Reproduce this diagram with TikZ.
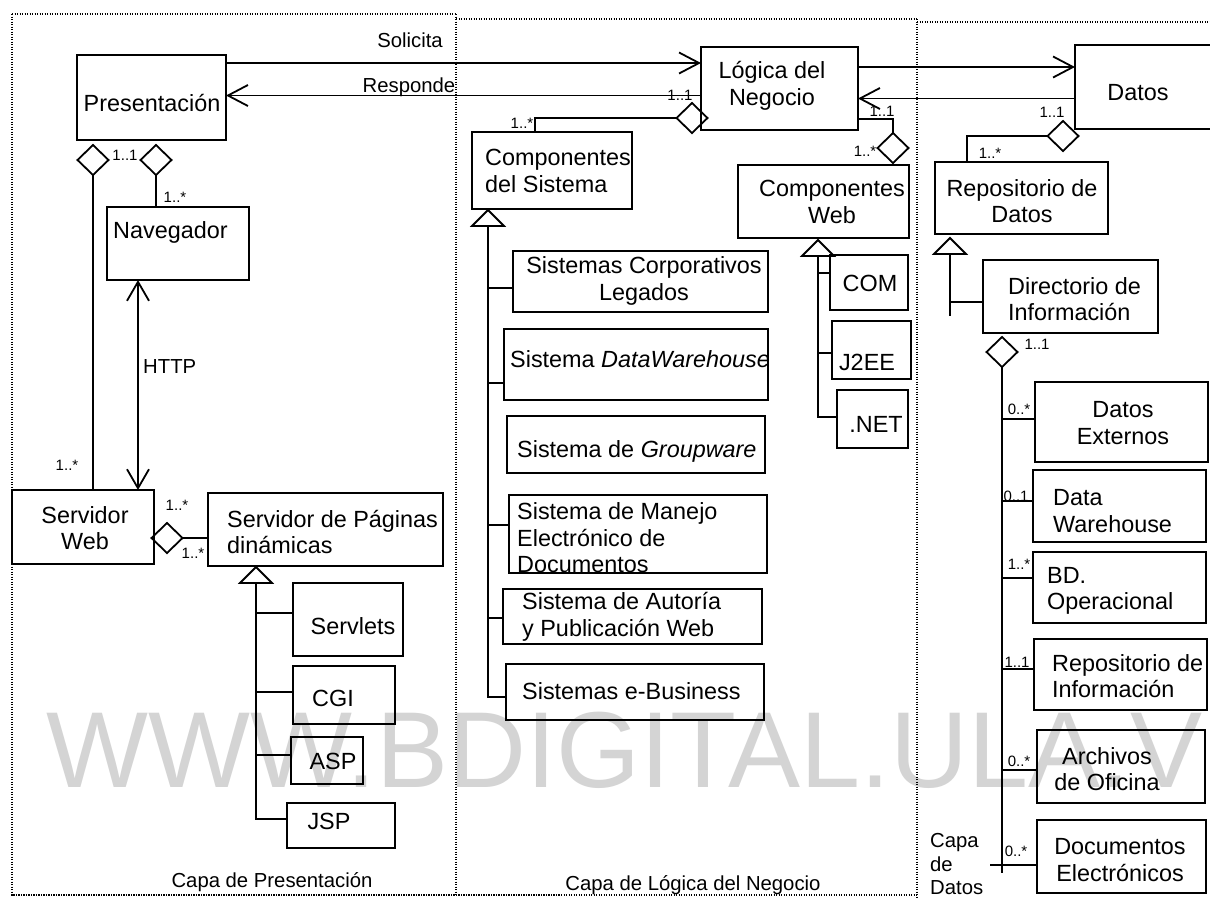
\documentclass[tikz,border=0pt]{standalone}
\usepackage{fontspec}
\setmainfont{Liberation Sans}
\usetikzlibrary{arrows.meta,shapes.geometric,calc}

% a class box given by its corners (x1,y1) and (x2,y2)
\newcommand\umlbox[5]{%
  \pgfmathsetmacro\bxw{#4-#2}\pgfmathsetmacro\bxh{#5-#3}%
  \pgfmathsetmacro\bxc{(#2+#4)/2}\pgfmathsetmacro\byc{(#3+#5)/2}%
  \node[boxst, minimum width=\bxw pt, minimum height=\bxh pt] (#1) at (\bxc,\byc) {};}

\tikzset{
  ln/.style={line width=1.8pt},
  boxst/.style={draw, line width=1.8pt, rectangle, inner sep=0pt, outer sep=0pt},
  txt/.style={inner sep=0pt, font=\fontsize{23.4}{26.5}\selectfont},
  lbl/.style={inner sep=0pt, font=\fontsize{20.3}{23.5}\selectfont},
  mult/.style={inner sep=0pt, font=\fontsize{15}{17}\selectfont},
  agg/.style={diamond, draw, line width=1.8pt, inner sep=0pt, outer sep=0pt,
    minimum width=31pt, minimum height=30pt},
  opn/.style={-{Straight Barb[length=20pt,width=21pt]}},
  frame/.style={line width=1.1pt, dash pattern=on 1.1pt off 1.4pt},
  gentri/.pic={\draw[line width=1.8pt] (0,0) -- (-16,16) -- (16,16) -- cycle;
    \coordinate (-base) at (0,16);}
}

\begin{document}
\begin{tikzpicture}[x=1pt,y=-1pt]
\path[use as bounding box, fill=white] (0,0) rectangle (1210,898);

% watermark
\node[anchor=base west, inner sep=0pt, text=black!17,
  font=\fontsize{108}{108}\selectfont] (wm) at (46,787) {WWW.BDIGITAL.ULA.V};

% layer frame
\draw[frame] (12,14) -- (456,14) (456,19) -- (917,19) (917,22) -- (1210,22);
\draw[frame] (12,14) -- (12,895) -- (917,895);
\draw[frame] (456,14) -- (456,895);
\draw[frame] (917,19) -- (917,898);

% ---------- presentation layer ----------
\umlbox{pres}{77}{55}{226}{140}
\umlbox{nav}{107}{207}{249}{280}
\umlbox{sweb}{12}{490}{154}{564}
\umlbox{spd}{208}{493}{443}{566}
\umlbox{servlets}{293}{583}{403}{656}
\umlbox{cgi}{293}{666}{395}{724}
\umlbox{asp}{291}{737}{363}{784}
\umlbox{jsp}{287}{803}{395}{848}

\node[txt] (tpres) at (152,103) {Presentación};
\node[txt, anchor=west] (tnav) at (113,232) {Navegador};
\node[txt, align=center] (tsweb) at (85,528) {Servidor\\Web};
\node[txt, align=left, anchor=west] (tspd) at (227,532) {Servidor de Páginas\\dinámicas};
\node[txt] (tservlets) at (353,626) {Servlets};
\node[txt] (tcgi) at (333,698) {CGI};
\node[txt] (tasp) at (333,761) {ASP};
\node[txt] (tjsp) at (329,821) {JSP};

% ---------- business logic layer ----------
\umlbox{logic}{701}{47}{858}{130}
\umlbox{csis}{472}{132}{632}{209}
\umlbox{scl}{513}{251}{768}{312}
\umlbox{sdw}{504}{329}{768}{400}
\umlbox{sgw}{507}{416}{765}{473}
\umlbox{sme}{509}{495}{767}{573}
\umlbox{sap}{503}{589}{762}{644}
\umlbox{seb}{506}{664}{764}{720}
\umlbox{cweb}{738}{165}{909}{238}
\umlbox{com}{830}{255}{908}{310}
\umlbox{jee}{832}{321}{911}{379}
\umlbox{net}{837}{390}{908}{448}

\node[txt, align=center] (tlogic) at (772,86) {Lógica del\\Negocio};
\node[txt, align=left, anchor=west] (tcsis) at (485,171) {Componentes\\del Sistema};
\node[txt, align=center] (tscl) at (644,281) {Sistemas Corporativos\\Legados};
\node[txt, anchor=west] (tsdw) at (510,359) {Sistema \textit{DataWarehouse}};
\node[txt, anchor=west] (tsgw) at (517,451) {Sistema de \textit{Groupware}};
\node[txt, align=left, anchor=west] (tsme) at (517,538) {Sistema de Manejo\\Electrónico de\\Documentos};
\node[txt, align=left, anchor=west] (tsap) at (522,617) {Sistema de Autoría\\y Publicación Web};
\node[txt, anchor=west] (tseb) at (522,691) {Sistemas e-Business};
\node[txt, align=center] (tcweb) at (832,202) {Componentes\\Web};
\node[txt] (tcom) at (870,283) {COM};
\node[txt] (tjee) at (867,362) {J2EE};
\node[txt] (tnet) at (876,424) {.NET};

% ---------- data layer ----------
\umlbox{datos}{1075}{45}{1240}{129}
\umlbox{rdatos}{935}{162}{1108}{234}
\umlbox{dir}{983}{260}{1158}{333}
\umlbox{dext}{1035}{382}{1208}{462}
\umlbox{dwh}{1033}{470}{1206}{542}
\umlbox{bdo}{1033}{552}{1206}{623}
\umlbox{rinf}{1034}{639}{1207}{710}
\umlbox{arch}{1037}{730}{1205}{803}
\umlbox{delec}{1037}{820}{1206}{893}

\node[txt] (tdatos) at (1138,93) {Datos};
\node[txt, align=center] (trdatos) at (1022,201) {Repositorio de\\Datos};
\node[txt, align=left, anchor=west] (tdir) at (1008,299) {Directorio de\\Información};
\node[txt, align=center] (tdext) at (1123,423) {Datos\\Externos};
\node[txt, align=left, anchor=west] (tdwh) at (1053,511) {Data\\Warehouse};
\node[txt, align=left, anchor=west] (tbdo) at (1047,591) {BD.\\Operacional};
\node[txt, align=left, anchor=west] (trinf) at (1052,676) {Repositorio de\\Información};
\node[txt, align=center] (tarch) at (1107,769) {Archivos\\de Oficina};
\node[txt, align=center] (tdelec) at (1120,860) {Documentos\\Electrónicos};

% layer captions
\node[lbl] (capaP) at (272,882) {Capa de Presentación};
\node[lbl] (capaL) at (693,885) {Capa de Lógica del Negocio};
\node[lbl, align=left, anchor=west] (capaD) at (930,864) {Capa\\de\\Datos};

% ---------- messages between layers ----------
\coordinate (ySol) at (0,63);
\coordinate (yRes) at (0,95.5);
\coordinate (yLD) at (0,67);
\coordinate (yDL) at (0,98.5);
\draw[ln, opn] (pres.east |- ySol) -- (logic.west |- ySol);
\draw[ln, opn] (logic.west |- yRes) -- (pres.east |- yRes);
\draw[ln, opn] (logic.east |- yLD) -- (datos.west |- yLD);
\draw[ln, opn] (datos.west |- yDL) -- (logic.east |- yDL);
\node[lbl] (lsol) at (410,40) {Solicita};
\node[lbl] (lres) at (409,87) {Responde};

% ---------- presentation associations ----------
\node[agg] (ag1) at (93,160) {};
\node[agg] (ag2) at (156,160) {};
\draw[ln] (ag1.south) -- (ag1.south |- sweb.north);
\draw[ln] (ag2.south) -- (ag2.south |- nav.north);
\coordinate (xH) at (138,0);
\draw[ln, {Straight Barb[length=19pt,width=22pt]}-{Straight Barb[length=19pt,width=22pt]}]
  (nav.south -| xH) -- (sweb.north -| xH);
\node[lbl, anchor=west] (lhttp) at (143,367) {HTTP};
\node[agg] (ag3) at (167,538) {};
\draw[ln] (ag3.east) -- (spd.west |- ag3.east);

\pic (g2) at (256,567) {gentri};
\coordinate (e2) at (256,819);
\draw[ln] (g2-base) -- (e2) -- (e2 -| jsp.west);
\coordinate (b21) at (256,613); \draw[ln] (b21) -- (b21 -| servlets.west);
\coordinate (b22) at (256,692); \draw[ln] (b22) -- (b22 -| cgi.west);
\coordinate (b23) at (256,755); \draw[ln] (b23) -- (b23 -| asp.west);

\node[mult] (m1) at (125,155) {1..1};
\node[mult] (m2) at (175,197) {1..*};
\node[mult] (m3) at (67,465) {1..*};
\node[mult] (m4) at (177,505) {1..*};
\node[mult] (m5) at (193,553) {1..*};

% ---------- logic associations ----------
\node[agg] (ag4) at (692,118) {};
\draw[ln] (ag4.west) -| ([xshift=-17pt]csis.north);
\node[agg] (ag5) at (893,148) {};
\draw[ln] ([yshift=-30.5pt]logic.east) -| (ag5.north);

\pic (g1) at (488,210) {gentri};
\coordinate (e1) at (488,697);
\draw[ln] (g1-base) -- (e1) -- (e1 -| seb.west);
\coordinate (b11) at (488,288); \draw[ln] (b11) -- (b11 -| scl.west);
\coordinate (b12) at (488,383); \draw[ln] (b12) -- (b12 -| sdw.west);
\coordinate (b13) at (488,525); \draw[ln] (b13) -- (b13 -| sme.west);
\coordinate (b14) at (488,618); \draw[ln] (b14) -- (b14 -| sap.west);

\pic (g3) at (818,240) {gentri};
\coordinate (e3) at (818,417);
\draw[ln] (g3-base) -- (e3) -- (e3 -| net.west);
\coordinate (b31) at (818,273); \draw[ln] (b31) -- (b31 -| com.west);
\coordinate (b32) at (818,353); \draw[ln] (b32) -- (b32 -| jee.west);

\node[mult] (m6) at (680,95) {1..1};
\node[mult] (m7) at (522,123) {1..*};
\node[mult] (m8) at (882,111) {1..1};
\node[mult] (m9) at (865,151) {1..*};

% ---------- data associations ----------
\node[agg] (ag6) at (1063,136) {};
\draw[ln] (ag6.west) -| ([xshift=-54.5pt]rdatos.north);

\pic (g4) at (950,238) {gentri};
\coordinate (e4) at (950,316);
\draw[ln] (g4-base) -- (e4);
\coordinate (b41) at (950,302); \draw[ln] (b41) -- (b41 -| dir.west);

\node[agg] (ag7) at (1002,352) {};
\coordinate (e7) at (1002,873);
\draw[ln] (ag7.south) -- (e7);
\coordinate (b71) at (1002,419); \draw[ln] (b71) -- (b71 -| dext.west);
\coordinate (b72) at (1002,501); \draw[ln] (b72) -- (b72 -| dwh.west);
\coordinate (b73) at (1002,578); \draw[ln] (b73) -- (b73 -| bdo.west);
\coordinate (b74) at (1002,669); \draw[ln] (b74) -- (b74 -| rinf.west);
\coordinate (b75) at (1002,770); \draw[ln] (b75) -- (b75 -| arch.west);
\coordinate (b76) at (990,865);  \draw[ln] (b76) -- (b76 -| delec.west);

\node[mult] (m10) at (1052,112) {1..1};
\node[mult] (m11) at (990,153) {1..*};
\node[mult] (m12) at (1037,344) {1..1};
\node[mult] (m13) at (1019,409) {0..*};
\node[mult] (m14) at (1016,496) {0..1};
\node[mult] (m15) at (1019,564) {1..*};
\node[mult] (m16) at (1017,662) {1..1};
\node[mult] (m17) at (1019,761) {0..*};
\node[mult] (m18) at (1016,851) {0..*};
\end{tikzpicture}
\end{document}
